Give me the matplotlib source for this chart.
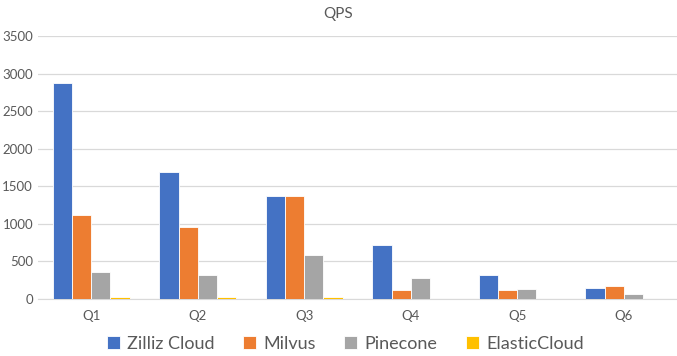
import matplotlib.pyplot as plt
import numpy as np

queries = ["Q1", "Q2", "Q3", "Q4", "Q5", "Q6"]
zilliz_cloud = [2870, 1690, 1365, 720, 315, 145]
milvus = [1120, 960, 1375, 125, 125, 180]
pinecone = [360, 320, 590, 280, 135, 70]
elastic_cloud = [22, 22, 30, 0, 0, 0]

series_names = ["Zilliz Cloud", "Milvus", "Pinecone", "ElasticCloud"]
colors = ["#4472C4", "#ED7D31", "#A5A5A5", "#FFC000"]
text_color = "#595959"

plt.rcParams["font.family"] = ["Lato", "DejaVu Sans"]

fig = plt.figure(figsize=(6.77, 3.56), dpi=100)
ax = fig.add_axes([0.056, 0.16, 0.944, 0.739])

x = np.arange(len(queries))
width = 0.18
all_series = [zilliz_cloud, milvus, pinecone, elastic_cloud]
for i, (vals, name, color) in enumerate(zip(all_series, series_names, colors)):
    offset = (i - 1.5) * width
    ax.bar(x + offset, vals, width, color=color, edgecolor="white",
           linewidth=0.6, label=name, zorder=3)

ax.set_xlim(-0.5, len(queries) - 0.5)
ax.set_ylim(0, 3500)
ax.set_yticks(np.arange(0, 3501, 500))
ax.set_xticks(x)
ax.set_xticklabels(queries)
ax.grid(axis="y", color="#D9D9D9", linewidth=0.9, zorder=0)
ax.tick_params(axis="both", length=0, labelsize=9.5, colors=text_color)
ax.tick_params(axis="x", pad=8)
for side in ["top", "right", "left"]:
    ax.spines[side].set_visible(False)
ax.spines["bottom"].set_color("#D9D9D9")

fig.text(0.5, 0.96, "QPS", ha="center", va="center", fontsize=11,
         color=text_color)

fig.legend(loc="center", bbox_to_anchor=(0.51, 0.035), ncol=4, frameon=False,
           fontsize=13, handlelength=0.7, handleheight=0.7, handletextpad=0.4,
           columnspacing=1.6, labelcolor=text_color)

fig.savefig("out.png", dpi=100)
